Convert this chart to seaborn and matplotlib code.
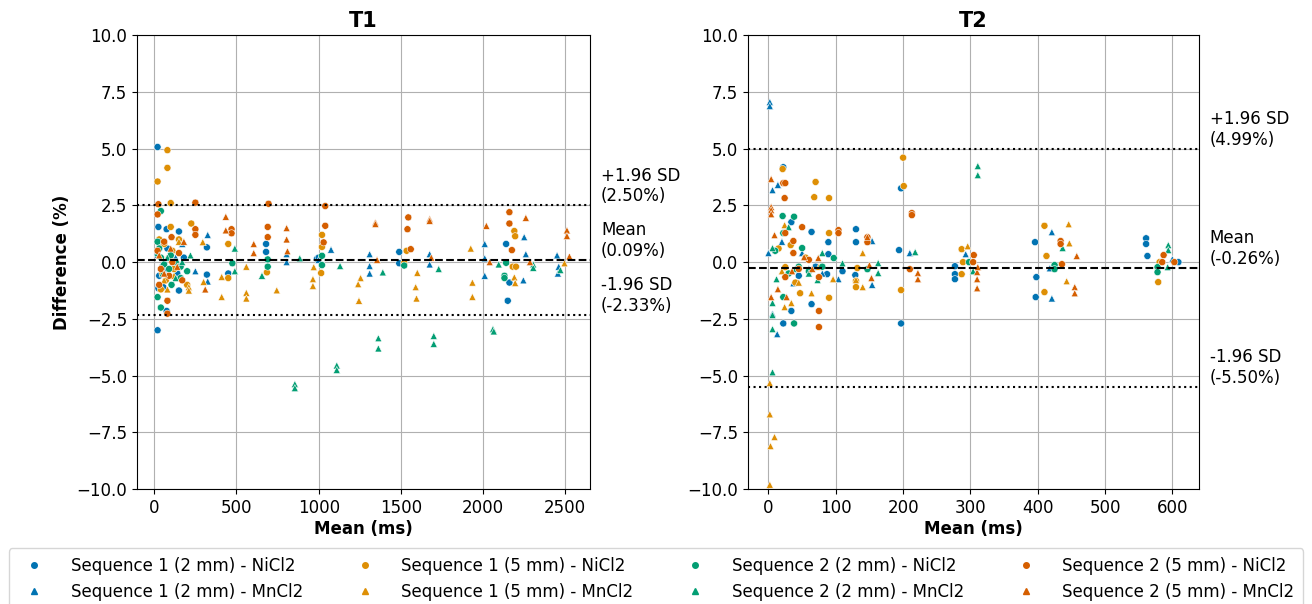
"""Bland-Altman plots of T1 and T2 differences for two sequences and two agents."""
import numpy as np
import pandas as pd
import seaborn as sns
import matplotlib
matplotlib.use('Agg')
import matplotlib.pyplot as plt

GROUPS = ['Sequence 1 (2 mm) - NiCl2', 'Sequence 1 (2 mm) - MnCl2',
          'Sequence 1 (5 mm) - NiCl2', 'Sequence 1 (5 mm) - MnCl2',
          'Sequence 2 (2 mm) - NiCl2', 'Sequence 2 (2 mm) - MnCl2',
          'Sequence 2 (5 mm) - NiCl2', 'Sequence 2 (5 mm) - MnCl2']

# ---- T1: mean (ms) and difference (%) per group ----
t1_s1_2mm_ni_x = [20, 25, 75, 150, 25, 55, 150, 75, 20, 320, 320, 680, 680, 450, 990, 2140, 2160, 2150,
                  1490, 1490, 1000, 20, 50, 80, 110, 140, 180, 30, 60, 120]
t1_s1_2mm_ni_y = [5.07, 1.55, 1.45, 1.35, -1.15, -1.1, -1.25, -2.15, -3.0, 0.65, -0.55, 0.8, 0.45, -0.5,
                  0.15, 0.8, -0.9, -1.7, 0.45, -0.05, 0.2, 0.3, -0.2, 0.6, 0.1, -0.5, 0.2, -0.6, 0.9, -0.3]
t1_s1_2mm_mn_x = [325, 170, 1075, 805, 805, 1310, 1310, 1310, 325, 1675, 1675, 2010, 2010, 2010, 2250,
                  2260, 2245, 2450, 2460, 2455, 30, 60, 100, 130, 250, 1000]
t1_s1_2mm_mn_y = [1.2, 0.8, 0.55, 0.35, 0.0, 0.35, -0.17, -0.5, -0.85, 0.35, -0.1, 0.8, 0.17, -0.6, 1.1,
                  0.35, -0.8, 0.3, -0.2, -0.5, 0.8, -0.3, 0.5, 0.2, -0.4, 0.1]
t1_s1_5mm_ni_x = [20, 80, 80, 100, 225, 450, 450, 1020, 1020, 1015, 685, 2190, 2195, 2180, 2200, 1535,
                  1520, 100, 30, 50, 60, 70, 90, 120, 150, 200, 40, 110]
t1_s1_5mm_ni_y = [3.55, 4.93, 4.15, 1.55, 1.7, 0.8, -0.7, 1.2, 0.67, -0.48, -0.45, 1.37, 1.14, -0.2, -0.2,
                  0.5, -0.03, 2.6, 1.0, -0.5, 0.8, -0.8, 0.2, -0.3, 1.0, -1.0, -1.2, 0.5]
t1_s1_5mm_mn_x = [210, 210, 300, 410, 410, 560, 560, 560, 745, 970, 965, 965, 1255, 1240, 1245, 295, 1925,
                  1935, 1935, 1600, 1590, 1595, 2190, 2195, 2495, 60, 80, 120, 150]
t1_s1_5mm_mn_y = [-1.1, -1.25, -0.87, -0.65, -1.53, -0.2, -1.35, -1.6, -1.24, -0.22, -0.75, -1.05, -0.7,
                  -0.97, -1.7, 0.88, 0.6, -0.9, -1.53, -0.47, -1.1, -1.6, -0.67, -0.92, -0.05, -0.8, -1.2,
                  -0.6, 0.9]
t1_s2_2mm_ni_x = [40, 20, 40, 105, 160, 475, 690, 690, 1020, 1020, 2140, 2130, 2130, 1520, 20, 30, 40, 60,
                  90, 130, 160, 200, 100]
t1_s2_2mm_ni_y = [2.25, -1.54, -2.0, -1.0, -0.7, -0.05, 0.12, -0.2, 0.28, -0.13, -0.03, -0.6, -0.7, -0.15,
                  0.9, 0.6, 0.2, -0.1, -0.3, 0.0, -0.2, -0.4, 0.3]
t1_s2_2mm_mn_x = [855, 855, 1110, 1110, 1363, 1363, 1700, 1700, 2060, 2065, 490, 490, 655, 885, 1130, 1390,
                  1730, 2095, 2305, 2305, 2470, 20, 50, 80, 130, 170, 220]
t1_s2_2mm_mn_y = [-5.37, -5.55, -4.55, -4.75, -3.35, -3.8, -3.25, -3.6, -2.95, -3.05, 0.6, -0.4, -0.6,
                  0.17, -0.17, -0.45, -0.3, -0.1, -0.1, -0.25, -0.35, 0.4, -0.5, 0.2, -0.7, 0.0, 0.3]
t1_s2_5mm_ni_x = [25, 20, 250, 695, 690, 690, 1040, 1040, 1030, 250, 250, 80, 80, 105, 470, 470, 1545, 1540,
                  1560, 2160, 2160, 2175, 20, 40, 60, 90, 110, 150, 170, 30]
t1_s2_5mm_ni_y = [2.55, 2.1, 2.62, 2.57, 1.55, 1.1, 2.47, 1.6, 0.87, 1.45, 1.2, -1.7, -2.27, 1.1, 1.45,
                  1.27, 1.97, 1.45, 0.57, 2.2, 1.7, 0.53, 0.5, -0.3, 0.9, -0.6, 0.0, 0.4, -0.8, -1.0]
t1_s2_5mm_mn_x = [435, 435, 805, 805, 810, 605, 605, 310, 1345, 1345, 1675, 1675, 2020, 2040, 2260, 2285,
                  2510, 2510, 2525, 1355, 1685, 30, 60, 100, 140, 180]
t1_s2_5mm_mn_y = [2.0, 1.4, 1.5, 1.0, 0.48, 0.8, 0.4, -1.2, 1.75, 1.68, 1.9, 1.82, 1.6, 0.0, 1.95, 0.0,
                  1.4, 1.15, 0.25, 0.1, 0.2, 0.3, -0.5, 0.6, -0.2, 0.9]

# ---- T2 ----
t2_s1_2mm_ni_x = [22, 34, 64, 89, 89, 64, 34, 22, 87, 130, 130, 129, 197, 194, 197, 277, 277, 277, 396,
                  398, 397, 561, 561, 563, 609, 10, 45, 70, 110]
t2_s1_2mm_ni_y = [4.18, 1.76, 1.33, 0.88, 0.35, -1.85, -2.15, -2.7, -0.53, 1.45, 0.88, -0.57, 3.25, 0.53,
                  -2.7, -0.18, -0.53, -0.75, 0.88, -0.66, -1.54, 1.05, 0.8, 0.27, 0.0, 0.5, -0.6, -0.2, -0.4]
t2_s1_2mm_mn_x = [2, 2, 6, 14, 0, 13, 6, 37, 50, 104, 154, 154, 210, 293, 421, 421, 418, 600, 20, 60, 80]
t2_s1_2mm_mn_y = [7.05, 6.87, 3.17, 3.4, 0.4, -3.17, -2.27, -0.93, 0.4, -0.75, -1.0, 0.93, 0.4, 0.35,
                  1.32, -1.6, -0.27, 0.13, 0.9, -0.3, -0.5]
t2_s1_5mm_ni_x = [21, 70, 68, 90, 200, 201, 90, 197, 47, 33, 132, 130, 130, 90, 25, 287, 289, 287, 413,
                  410, 410, 579, 581, 40, 55, 15]
t2_s1_5mm_ni_y = [4.1, 3.53, 2.86, 2.82, 4.6, 3.35, 1.28, -1.23, -1.37, 0.75, -0.26, -0.83, -1.1, -1.57,
                  -0.22, 0.57, 0.0, -0.53, 0.27, 1.6, -1.32, -0.88, 0.0, -0.9, 0.2, 0.6]
t2_s1_5mm_mn_x = [2, 2, 9, 3, 2, 24, 24, 34, 64, 96, 130, 140, 140, 296, 446, 447, 443, 20, 45, 75]
t2_s1_5mm_mn_y = [-5.33, -6.7, -7.7, -8.1, -9.8, 1.63, -1.98, -1.8, -1.37, -0.75, -0.79, -1.1, 0.4, 0.7,
                  1.67, 0.83, -0.84, -0.4, -0.9, -0.2]
t2_s2_2mm_ni_x = [21, 38, 22, 50, 22, 38, 97, 147, 298, 425, 425, 578, 578, 10, 30, 60, 80, 45]
t2_s2_2mm_ni_y = [2.03, 2.0, 1.28, 0.62, -1.54, -2.7, 0.18, -0.31, 0.0, -0.13, -0.31, -0.22, -0.44, 0.5,
                  -0.5, -0.4, -0.2, -0.2]
t2_s2_2mm_mn_x = [6, 311, 311, 437, 594, 594, 593, 304, 6, 6, 6, 12, 30, 80, 163, 163, 218, 110, 73, 6, 40, 60]
t2_s2_2mm_mn_y = [-4.85, 4.23, 3.83, 0.62, 0.75, 0.53, -0.22, -0.4, -2.95, -2.33, -1.8, -0.75, 1.54, 0.4,
                  -0.04, -0.48, 0.44, -0.05, -0.79, 0.62, -0.3, -0.5]
t2_s2_5mm_ni_x = [22, 25, 24, 50, 104, 104, 75, 75, 213, 213, 147, 147, 25, 37, 37, 25, 75, 210, 305, 304,
                  434, 434, 436, 587, 585, 603, 45, 60]
t2_s2_5mm_ni_y = [3.48, 3.48, 2.82, 1.54, 1.41, 1.28, -2.15, -2.86, 2.16, 2.07, 1.1, 0.88, 1.28, 0.93, 0.4,
                  -0.66, -0.66, -0.31, 0.31, 0.0, 0.93, 0.8, -0.09, 0.31, 0.0, 0.0, -0.3, 0.1]
t2_s2_5mm_mn_x = [4, 4, 4, 4, 4, 9, 14, 27, 53, 74, 153, 150, 222, 222, 147, 310, 310, 310, 458, 455, 455,
                  311, 35, 65]
t2_s2_5mm_mn_y = [3.66, 2.43, 2.29, 2.11, -1.54, 1.19, -1.19, -1.54, 0.22, 0.18, -0.7, -0.13, -0.48, -0.75,
                  1.1, -0.44, -0.75, -1.15, 0.27, -1.1, -1.37, -0.22, -0.4, -0.3]

# limits of agreement as reported on the figure
T1_MEAN, T1_UPPER, T1_LOWER = 0.09, 2.50, -2.33
T2_MEAN, T2_UPPER, T2_LOWER = -0.26, 4.99, -5.50

t1_series = [(t1_s1_2mm_ni_x, t1_s1_2mm_ni_y), (t1_s1_2mm_mn_x, t1_s1_2mm_mn_y),
             (t1_s1_5mm_ni_x, t1_s1_5mm_ni_y), (t1_s1_5mm_mn_x, t1_s1_5mm_mn_y),
             (t1_s2_2mm_ni_x, t1_s2_2mm_ni_y), (t1_s2_2mm_mn_x, t1_s2_2mm_mn_y),
             (t1_s2_5mm_ni_x, t1_s2_5mm_ni_y), (t1_s2_5mm_mn_x, t1_s2_5mm_mn_y)]
t2_series = [(t2_s1_2mm_ni_x, t2_s1_2mm_ni_y), (t2_s1_2mm_mn_x, t2_s1_2mm_mn_y),
             (t2_s1_5mm_ni_x, t2_s1_5mm_ni_y), (t2_s1_5mm_mn_x, t2_s1_5mm_mn_y),
             (t2_s2_2mm_ni_x, t2_s2_2mm_ni_y), (t2_s2_2mm_mn_x, t2_s2_2mm_mn_y),
             (t2_s2_5mm_ni_x, t2_s2_5mm_ni_y), (t2_s2_5mm_mn_x, t2_s2_5mm_mn_y)]


def to_frame(series):
    rows = []
    for g, (xs, ys) in zip(GROUPS, series):
        for x, y in zip(xs, ys):
            rows.append({'mean': x, 'diff': y, 'group': g})
    return pd.DataFrame(rows)


cb = sns.color_palette('colorblind')
palette = {}
markers = {}
for i, g in enumerate(GROUPS):
    palette[g] = cb[i // 2]
    markers[g] = 'o' if 'NiCl2' in g else '^'

plt.rcParams.update({'font.size': 12, 'font.family': ['DejaVu Sans']})
fig = plt.figure(figsize=(13.12, 6.04), dpi=100)
ax1 = fig.add_axes([0.1044, 0.19, 0.3453, 0.752])
ax2 = fig.add_axes([0.5701, 0.19, 0.3437, 0.752])


def bland_altman(ax, df, title, m, up, lo):
    ax.set_axisbelow(True)
    ax.grid(True, color='#b0b0b0', linewidth=0.8)
    sns.scatterplot(data=df, x='mean', y='diff', hue='group', style='group',
                    hue_order=GROUPS, style_order=GROUPS, palette=palette,
                    markers=markers, s=26, linewidth=0.4, edgecolor='white', ax=ax)
    ax.axhline(m, color='black', linestyle='--', linewidth=1.5)
    ax.axhline(up, color='black', linestyle=':', linewidth=1.5)
    ax.axhline(lo, color='black', linestyle=':', linewidth=1.5)
    tr = ax.get_yaxis_transform()
    ax.text(1.024, up, f'+1.96 SD\n({up:.2f}%)', transform=tr, va='bottom', ha='left', fontsize=12)
    ax.text(1.024, m, f'Mean\n({m:.2f}%)', transform=tr, va='bottom', ha='left', fontsize=12)
    ax.text(1.024, lo, f'-1.96 SD\n({lo:.2f}%)', transform=tr, va='bottom', ha='left', fontsize=12)
    ax.set_ylim(-10, 10)
    ax.set_yticks(np.arange(-10, 10.01, 2.5))
    ax.set_title(title, fontsize=15, fontweight='bold')
    ax.set_xlabel('Mean (ms)', fontweight='bold', labelpad=2)
    ax.set_ylabel('')
    ax.get_legend().remove()


bland_altman(ax1, to_frame(t1_series), 'T1', T1_MEAN, T1_UPPER, T1_LOWER)
bland_altman(ax2, to_frame(t2_series), 'T2', T2_MEAN, T2_UPPER, T2_LOWER)
ax1.set_xticks([0, 500, 1000, 1500, 2000, 2500])
ax2.set_xticks([0, 100, 200, 300, 400, 500, 600])
ax1.set_ylabel('Difference (%)', fontweight='bold')

handles = []
for g in GROUPS:
    handles.append(plt.Line2D([], [], linestyle='', marker=markers[g], color=palette[g],
                              markersize=4, label=g))
fig.legend(handles=handles, ncol=4, loc='upper center', bbox_to_anchor=(0.5, 0.092),
           fontsize=12, frameon=True, borderaxespad=0.0, handletextpad=1.2,
           columnspacing=2.7, borderpad=0.5)

fig.savefig('out.png', dpi=100)
